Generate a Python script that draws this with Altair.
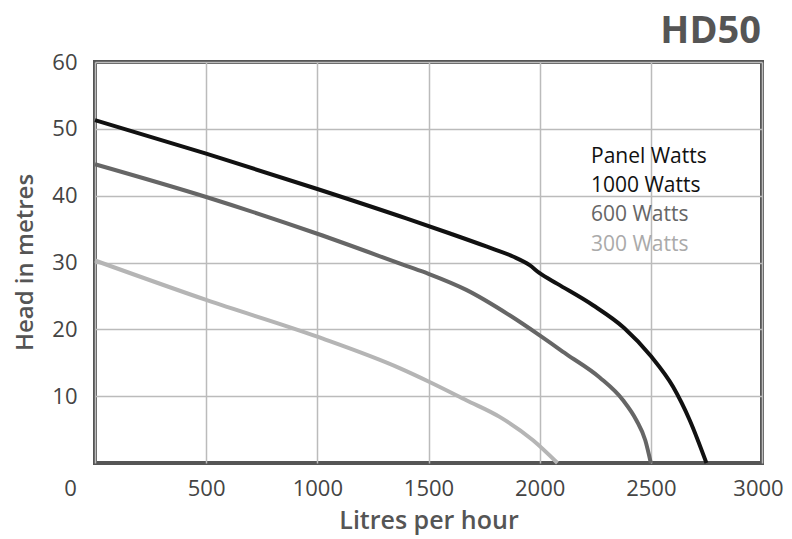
import altair as alt
import pandas as pd

# ---- data ----
flow_1000 = [0, 500, 1000, 1400, 1600, 1760, 1880, 1955, 2000, 2080, 2240, 2380, 2500, 2600, 2675, 2750]
head_1000 = [51.3, 46.3, 41.0, 36.6, 34.3, 32.4, 30.9, 29.6, 28.4, 26.8, 23.6, 20.2, 16.0, 11.4, 6.4, 0]

flow_600 = [0, 500, 1000, 1400, 1500, 1670, 1865, 2000, 2120, 2270, 2375, 2435, 2475, 2500]
head_600 = [44.7, 39.8, 34.3, 29.5, 28.3, 25.9, 22.1, 19.1, 16.3, 12.8, 9.4, 6.4, 3.4, 0]

flow_300 = [0, 500, 1000, 1370, 1500, 1670, 1820, 1970, 2080]
head_300 = [30.3, 24.4, 18.9, 14.2, 12.2, 9.4, 6.9, 3.4, 0]

series_names = ["1000 Watts", "600 Watts", "300 Watts"]
series_colors = ["#111111", "#666666", "#b5b5b5"]

legend_labels = ["Panel Watts", "1000 Watts", "600 Watts", "300 Watts"]
legend_colors = ["#111111", "#111111", "#666666", "#aaaaaa"]

chart_title = "HD50"
x_title = "Litres per hour"
y_title = "Head in metres"
x_ticks = [0, 500, 1000, 1500, 2000, 2500, 3000]
y_ticks = [10, 20, 30, 40, 50, 60]

FONT = "Open Sans"

rows = []
for name, fl, hd in [("1000 Watts", flow_1000, head_1000),
                     ("600 Watts", flow_600, head_600),
                     ("300 Watts", flow_300, head_300)]:
    for i, (f, h) in enumerate(zip(fl, hd)):
        rows.append({"series": name, "flow": f, "head": h, "order": i})
df = pd.DataFrame(rows)

lines = alt.Chart(df).mark_line(strokeWidth=4, interpolate="monotone").encode(
    x=alt.X("flow:Q",
            scale=alt.Scale(domain=[0, 3000], nice=False),
            axis=alt.Axis(values=x_ticks, title=x_title, grid=True, format="d",
                          gridColor="#bbbbbb", gridWidth=1.5,
                          domain=False, ticks=False, labelFlush=False,
                          labelOverlap=False,
                          labelFont=FONT, labelFontSize=22, labelColor="#444444",
                          labelPadding=15,
                          labelOffset={"condition": [
                              {"test": "datum.value === 0", "value": -25},
                              {"test": "datum.value === 3000", "value": -4}],
                              "value": 0},
                          titleFont=FONT, titleFontSize=25, titleFontWeight=600,
                          titleColor="#555555", titleBaseline="alphabetic",
                          titleY=65)),
    y=alt.Y("head:Q",
            scale=alt.Scale(domain=[0, 60], nice=False),
            axis=alt.Axis(values=y_ticks, title=y_title, grid=True, format="d",
                          gridColor="#bbbbbb", gridWidth=1.5,
                          domain=False, ticks=False, labelOverlap=False,
                          labelFont=FONT, labelFontSize=22, labelColor="#444444",
                          labelPadding=18,
                          titleFont=FONT, titleFontSize=24, titleFontWeight=600,
                          titleColor="#555555", titleBaseline="alphabetic",
                          titleX=-63, titleY=200)),
    color=alt.Color("series:N", scale=alt.Scale(domain=series_names, range=series_colors), legend=None),
    order="order:Q",
)

layers = [lines]
for i, (lab, col) in enumerate(zip(legend_labels, legend_colors)):
    layers.append(
        alt.Chart(pd.DataFrame({"t": [lab]})).mark_text(
            align="left", baseline="alphabetic", fontSize=21, font=FONT, color=col
        ).encode(text="t:N", x=alt.value(496), y=alt.value(100.5 + 29.4 * i))
    )

layers.append(
    alt.Chart(pd.DataFrame({"t": [chart_title]})).mark_text(
        align="right", baseline="alphabetic", fontSize=38, fontWeight="bold",
        font=FONT, color="#555555"
    ).encode(text="t:N", x=alt.value(666), y=alt.value(-19))
)

chart = alt.layer(*layers).properties(
    width=667, height=401,
    background="white",
    autosize=alt.AutoSizeParams(type="none"),
    padding={"left": 87, "top": 54, "right": 22, "bottom": 72},
).configure_view(stroke="#555555", strokeWidth=4)

chart.save("out.html", embed_options={"renderer": "svg", "actions": False})
